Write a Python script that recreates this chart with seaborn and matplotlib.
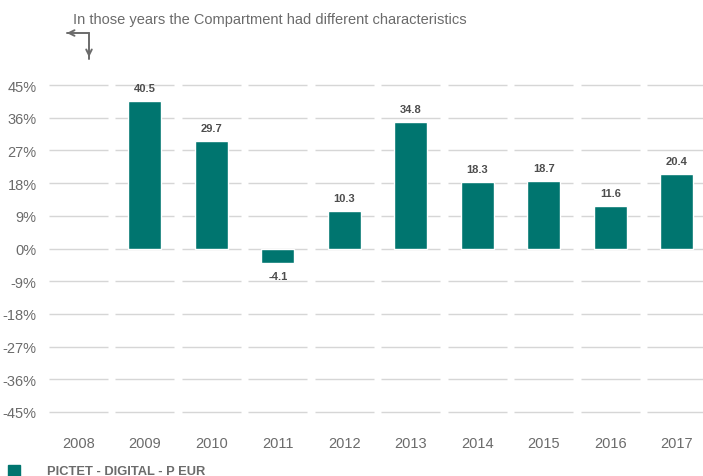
import numpy as np
import pandas as pd
import matplotlib
matplotlib.use("Agg")
import matplotlib.pyplot as plt
import seaborn as sns
from matplotlib.patches import Rectangle

years = ["2008", "2009", "2010", "2011", "2012", "2013", "2014", "2015", "2016", "2017"]
returns = [np.nan, 40.5, 29.7, -4.1, 10.3, 34.8, 18.3, 18.7, 11.6, 20.4]
yticks = [45, 36, 27, 18, 9, 0, -9, -18, -27, -36, -45]
series_name = "PICTET - DIGITAL - P EUR"
note = "In those years the Compartment had different characteristics"

teal = "#00756f"
grey = "#6b6b6b"

sns.set_style("white")
plt.rcParams["font.family"] = ["Liberation Sans", "DejaVu Sans"]

df = pd.DataFrame({"year": years, "ret": returns})

fig = plt.figure(figsize=(7.03, 4.77), dpi=100)
ax = fig.add_axes([45 / 703, 1 - 431 / 477, 665 / 703, 363 / 477])

# segmented gridlines, one piece per category
for t in yticks:
    ax.hlines([t] * len(years), np.arange(len(years)) - 0.445, np.arange(len(years)) + 0.445,
              color="#d6d6d6", lw=1, zorder=0)

sns.barplot(data=df, x="year", y="ret", color=teal, width=0.5, saturation=1, ax=ax, zorder=2)

for i, v in enumerate(returns):
    if np.isnan(v):
        continue
    if v >= 0:
        ax.text(i, v + 2.2, f"{v:.1f}", ha="center", va="bottom", fontsize=8,
                fontweight="bold", color="#4d4d4d")
    else:
        ax.text(i, v - 2.2, f"{v:.1f}", ha="center", va="top", fontsize=8,
                fontweight="bold", color="#4d4d4d")

ax.set_ylim(-50, 50)
ax.set_xlim(-0.5, 9.5)
ax.set_yticks(yticks)
ax.set_yticklabels([f"{t}%" for t in yticks])
ax.set_xlabel("")
ax.set_ylabel("")
ax.tick_params(axis="both", length=0, labelsize=10.5, colors=grey)
ax.tick_params(axis="y", pad=6)
ax.tick_params(axis="x", pad=4)
for s in ax.spines.values():
    s.set_visible(False)

# note with elbow arrows
fig.text(73 / 703, 1 - 20 / 477, note, fontsize=10.5, color=grey, va="center", ha="left")
fig.add_artist(plt.Line2D([67 / 703, 89 / 703], [1 - 34 / 477, 1 - 34 / 477],
                          color=grey, lw=1.4, transform=fig.transFigure))
fig.add_artist(plt.Line2D([89 / 703, 89 / 703], [1 - 34 / 477, 1 - 60 / 477],
                          color=grey, lw=1.4, transform=fig.transFigure))
ax.annotate("", xy=(64 / 703, 1 - 34 / 477), xytext=(74 / 703, 1 - 34 / 477),
            xycoords="figure fraction",
            arrowprops=dict(arrowstyle="->", color=grey, lw=1.4))
ax.annotate("", xy=(89 / 703, 1 - 61 / 477), xytext=(89 / 703, 1 - 50 / 477),
            xycoords="figure fraction",
            arrowprops=dict(arrowstyle="->", color=grey, lw=1.4))

# legend
fig.add_artist(Rectangle((8 / 703, 1 - 478 / 477), 12 / 703, 12 / 477,
                         transform=fig.transFigure, color=teal))
fig.text(47 / 703, 1 - 472 / 477, series_name, fontsize=9.3, fontweight="bold",
         color=grey, va="center", ha="left")

fig.savefig("out.png", dpi=100)
